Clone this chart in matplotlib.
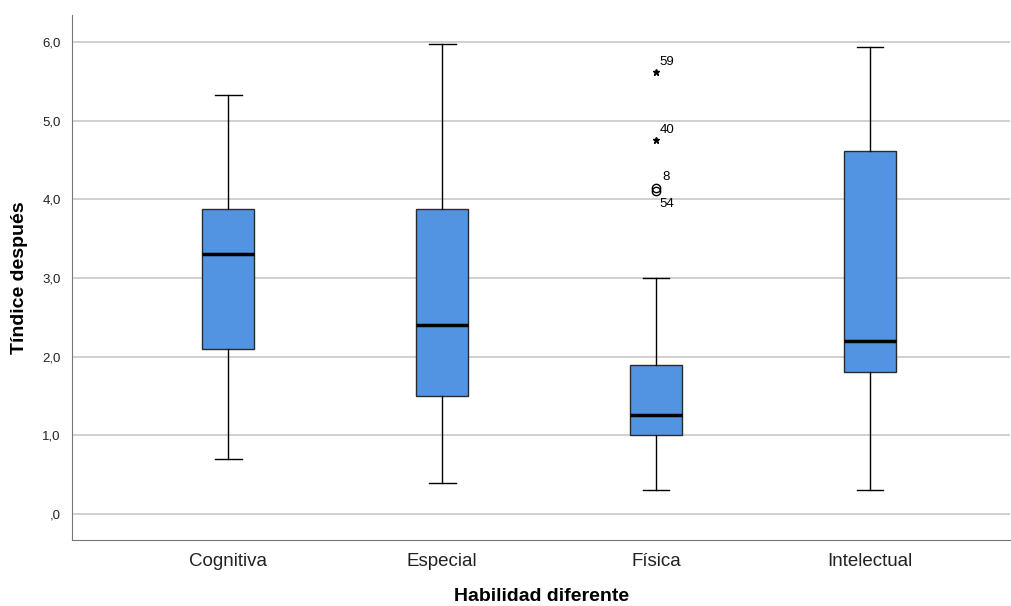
import matplotlib
matplotlib.use("Agg")
import matplotlib.pyplot as plt
from matplotlib.ticker import FuncFormatter

plt.rcParams["font.family"] = ["Liberation Sans", "DejaVu Sans"]

categories = ["Cognitiva", "Especial", "Física", "Intelectual"]
whislo = [0.70, 0.39, 0.30, 0.30]
q1 = [2.10, 1.50, 1.00, 1.80]
med = [3.30, 2.40, 1.26, 2.20]
q3 = [3.88, 3.88, 1.89, 4.61]
whishi = [5.33, 5.97, 3.00, 5.94]

# outliers of Física
extreme_vals = [5.62, 4.75]
extreme_ids = ["59", "40"]
outlier_vals = [4.14, 4.11]
outlier_ids = ["8", "54"]
outlier_cat = 2

fig = plt.figure(figsize=(10.11, 6.06), dpi=100)
ax = fig.add_axes([0.0712, 0.1089, 0.928, 0.866])

stats = []
for i, c in enumerate(categories):
    stats.append(dict(label=c, whislo=whislo[i], q1=q1[i], med=med[i], q3=q3[i],
                      whishi=whishi[i], fliers=[]))

ax.bxp(stats, positions=range(len(categories)), widths=0.245, patch_artist=True,
       showfliers=False,
       boxprops=dict(facecolor="#5294E2", edgecolor="#2b2b2b", linewidth=1.0),
       medianprops=dict(color="black", linewidth=2.5),
       whiskerprops=dict(color="black", linewidth=1.0),
       capprops=dict(color="black", linewidth=1.0),
       capwidths=0.125, zorder=3)

ax.plot([outlier_cat] * len(extreme_vals), extreme_vals, linestyle="none", marker="*",
        color="black", markersize=5, zorder=4)
ax.plot([outlier_cat] * len(outlier_vals), outlier_vals, linestyle="none", marker="o",
        markerfacecolor="none", markeredgecolor="black", markersize=6, zorder=4)
for v, t in zip(extreme_vals, extreme_ids):
    ax.text(outlier_cat + 0.015, v + 0.05, t, fontsize=9.5, ha="left", va="bottom")
ax.text(outlier_cat + 0.03, outlier_vals[0] + 0.07, outlier_ids[0], fontsize=9.5, ha="left", va="bottom")
ax.text(outlier_cat + 0.015, outlier_vals[1] - 0.09, outlier_ids[1], fontsize=9.5, ha="left", va="top")

ax.set_xlim(-0.73, 3.655)
ax.set_ylim(-0.33, 6.34)
ax.set_yticks([0, 1, 2, 3, 4, 5, 6])
ax.yaxis.set_major_formatter(FuncFormatter(
    lambda v, p: ",0" if v == 0 else ("%.1f" % v).replace(".", ",")))
ax.grid(axis="y", color="#c8c8c8", linewidth=1.2, zorder=0)
ax.set_axisbelow(True)
for s in ["top", "right"]:
    ax.spines[s].set_visible(False)
ax.spines["left"].set_color("#777777")
ax.spines["bottom"].set_color("#777777")
ax.tick_params(axis="y", length=0, labelsize=9.5, pad=8, labelcolor="#222222")
ax.tick_params(axis="x", length=0, labelsize=13.5, pad=9, labelcolor="#222222")
ax.set_xticks(range(len(categories)))
ax.set_xticklabels(categories)
ax.set_xlabel("Habilidad diferente", fontsize=14, fontweight="bold", labelpad=13)
ax.set_ylabel("Tíndice después", fontsize=14, fontweight="bold", labelpad=10)

fig.savefig("out.png", dpi=100)
